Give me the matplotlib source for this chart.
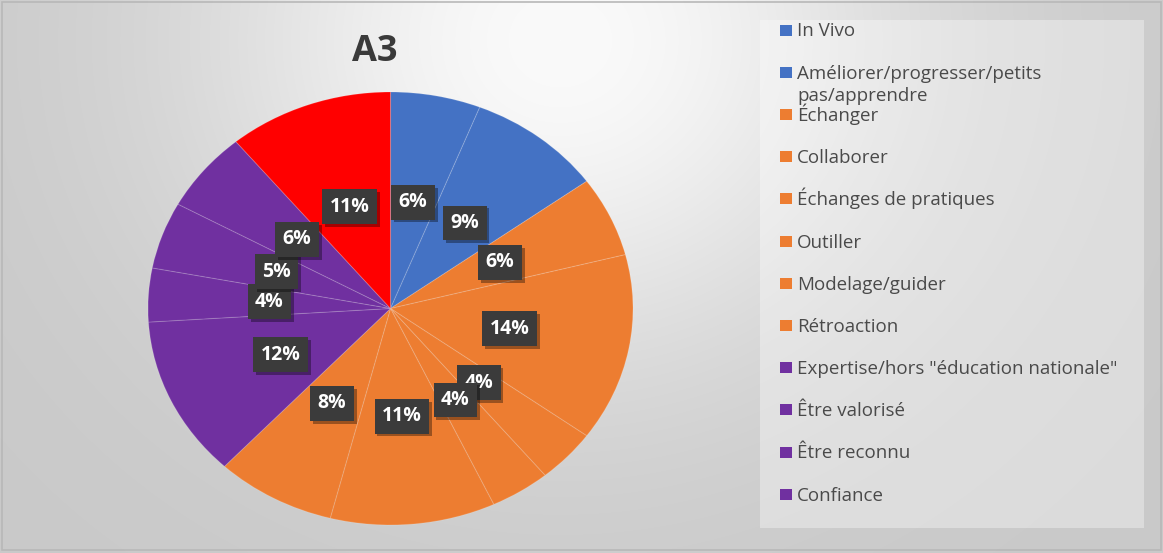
import matplotlib
matplotlib.use("Agg")
import matplotlib.pyplot as plt
import matplotlib.patheffects as pe
import numpy as np
from matplotlib.patches import Rectangle

plt.rcParams["font.family"] = ["Open Sans", "DejaVu Sans"]

# Data (percent of coded segments), clockwise from 12 o'clock
categories = [
    "In Vivo",
    "Améliorer/progresser/petits\npas/apprendre",
    "Échanger",
    "Collaborer",
    "Échanges de pratiques",
    "Outiller",
    "Modelage/guider",
    "Rétroaction",
    'Expertise/hors "éducation nationale"',
    "Être valorisé",
    "Être reconnu",
    "Confiance",
    "",  # last slice, not shown in the legend
]
values = [6, 9, 6, 14, 4, 4, 11, 8, 12, 4, 5, 6, 11]
colors = ["#4472C4"] * 2 + ["#ED7D31"] * 6 + ["#7030A0"] * 4 + ["#FF0000"]
n_legend = 12

W, H = 1163, 553
fig = plt.figure(figsize=(W / 100, H / 100), dpi=100)

# background gradient
bg = fig.add_axes([0, 0, 1, 1])
yy, xx = np.mgrid[0:H, 0:W]
d = np.hypot(xx - 560, (yy - 40) * 1.1)
shade = 201 + 49 * np.exp(-(d / 360) ** 2)
img = np.dstack([shade, shade, shade]) / 255
bg.imshow(img, extent=(0, W, H, 0), aspect="auto")
bg.set_xlim(0, W)
bg.set_ylim(H, 0)
bg.axis("off")
# legend panel and frame
bg.add_patch(Rectangle((760, 20), 384, 508, facecolor="white", alpha=0.35, edgecolor="none"))
bg.add_patch(Rectangle((2, 2), W - 4, 548, facecolor="none", edgecolor="#b8b8b8", linewidth=1.2))

# pie (elliptical, as in the stretched screenshot)
ax = fig.add_axes([148 / W, (H - 525) / H, 485 / W, 433 / H])
wedges, texts, autotexts = ax.pie(
    values,
    colors=colors,
    startangle=90,
    counterclock=False,
    autopct=lambda p: f"{p:.0f}%",
    pctdistance=0.5,
    wedgeprops=dict(edgecolor=(1, 1, 1, 0.15), linewidth=0.8),
    textprops=dict(color="white", fontsize=14, fontweight="bold"),
)
ax.set_aspect("auto")
ax.set_xlim(-1, 1)
ax.set_ylim(-1, 1)
ax.axis("off")

for t in autotexts:
    t.set_bbox(dict(boxstyle="square,pad=0.38", facecolor="#3b3b3b", edgecolor="none"))
    t.get_bbox_patch().set_path_effects(
        [pe.SimplePatchShadow(offset=(2, -2), shadow_rgbFace="black", alpha=0.35), pe.Normal()]
    )

fig.text(375 / W, 1 - 52 / H, "A3", ha="center", va="center",
         fontsize=26, fontweight="bold", color="#3a3a3a")

# legend, drawn row by row (fixed row pitch like Excel)
leg = fig.add_axes([0, 0, 1, 1], facecolor="none")
leg.set_xlim(0, W)
leg.set_ylim(H, 0)
leg.axis("off")
row0, pitch, line_gap = 30, 42.2, 22.5
for i in range(n_legend):
    yc = row0 + i * pitch
    leg.add_patch(Rectangle((780, yc - 5.5), 12, 11, facecolor=colors[i], edgecolor="none"))
    for k, line in enumerate(categories[i].split("\n")):
        leg.text(797, yc + 6.5 + k * line_gap, line, ha="left", va="baseline",
                 fontsize=13.5, color="#4a4a4a")

fig.savefig("out.png", dpi=100)
